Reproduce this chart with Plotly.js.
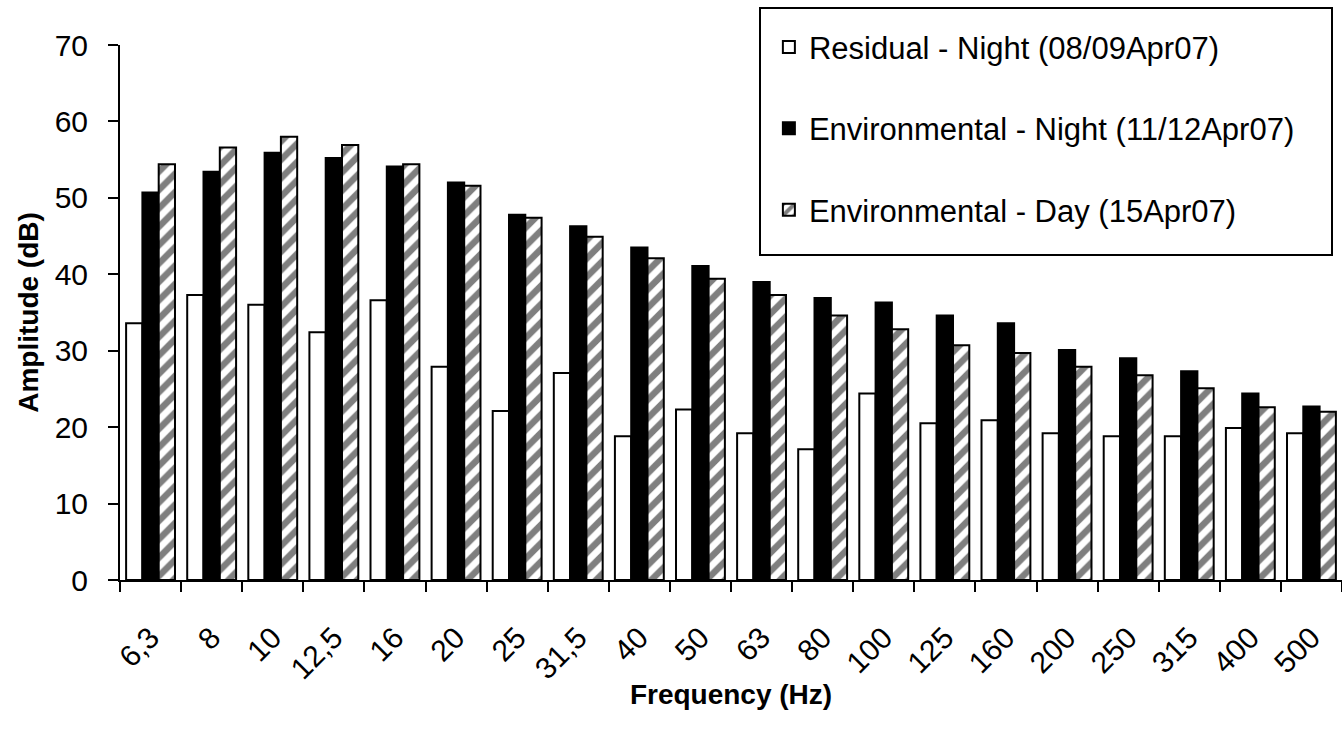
<!DOCTYPE html>
<html>
<head>
<meta charset="utf-8">
<script src="https://cdn.plot.ly/plotly-3.0.1.min.js"></script>
<style>
html,body{margin:0;padding:0;background:#fff;}
#chart{width:1342px;height:737px;}
</style>
</head>
<body>
<div id="chart"></div>
<script>
const categories = ["6,3","8","10","12,5","16","20","25","31,5","40","50","63","80","100","125","160","200","250","315","400","500"];
const residualNight = [33.6,37.3,36.0,32.4,36.6,27.9,22.1,27.1,18.8,22.3,19.2,17.1,24.4,20.5,20.9,19.2,18.8,18.8,19.9,19.2];
const envNight = [50.7,53.4,55.9,55.2,54.1,52.0,47.8,46.3,43.5,41.1,39.0,36.9,36.3,34.6,33.6,30.1,29.0,27.3,24.4,22.7];
const envDay = [54.4,56.6,58.0,56.9,54.4,51.6,47.4,44.9,42.1,39.4,37.3,34.6,32.8,30.7,29.7,27.9,26.8,25.1,22.6,22.0];
const seriesNames = ["Residual - Night (08/09Apr07)","Environmental - Night (11/12Apr07)","Environmental - Day (15Apr07)"];

const FONT = "Liberation Sans, Arial, sans-serif";

const traces = [
  {type:"bar", name:seriesNames[0], x:categories, y:residualNight, legendgroup:"a",
   marker:{color:"#ffffff", line:{color:"#000000", width:2}}},
  {type:"bar", name:seriesNames[1], x:categories, y:envNight, legendgroup:"b",
   marker:{color:"#000000", line:{color:"#000000", width:2}}},
  {type:"bar", name:seriesNames[2], x:categories, y:envDay, legendgroup:"c",
   marker:{color:"#ffffff", line:{color:"#000000", width:2},
     pattern:{shape:"/", fgcolor:"#000000", bgcolor:"#ffffff", size:13, solidity:0.5, fillmode:"overlay"}}}
];

const layout = {
  width:1342, height:737,
  margin:{l:120, r:0, t:45, b:157},
  paper_bgcolor:"#ffffff", plot_bgcolor:"#ffffff",
  font:{family:FONT, color:"#000000", size:28},
  barmode:"group", bargap:0.2, bargroupgap:0,
  showlegend:true,
  legend:{x:0.531, y:1.046, xanchor:"left", yanchor:"top", bgcolor:"rgba(0,0,0,0)",
    borderwidth:0, font:{family:FONT, size:31, color:"#000000"},
    tracegroupgap:38, traceorder:"grouped"},
  shapes:[{type:"rect", xref:"paper", yref:"paper", x0:(760-120)/1222, x1:(1332-120)/1222,
    y0:(580-255)/535, y1:(580-8)/535, line:{color:"#000000", width:2}, fillcolor:"rgba(0,0,0,0)", layer:"above"}],
  xaxis:{type:"category", showline:true, linecolor:"#000000", linewidth:2,
    ticks:"outside", tickson:"boundaries", ticklen:10, tickwidth:2, tickcolor:"#000000",
    tickangle:-45, tickfont:{family:FONT, size:30, color:"#000000"}, showgrid:false, zeroline:false,
    ticklabelstandoff:26,
    title:{text:"Frequency (Hz)", font:{family:FONT, size:28, color:"#000000", weight:"bold"}, standoff:0}},
  yaxis:{range:[0,70], dtick:10, tick0:0, showline:true, linecolor:"#000000", linewidth:2,
    ticks:"outside", ticklen:10, tickwidth:2, tickcolor:"#000000", showgrid:false, zeroline:false,
    tickfont:{family:FONT, size:30, color:"#000000"}, ticklabelstandoff:14,
    title:{text:"Amplitude (dB)", font:{family:FONT, size:28, color:"#000000", weight:"bold"}, standoff:8}}
};

Plotly.newPlot("chart", traces, layout, {displayModeBar:false, staticPlot:true});
</script>
</body>
</html>
